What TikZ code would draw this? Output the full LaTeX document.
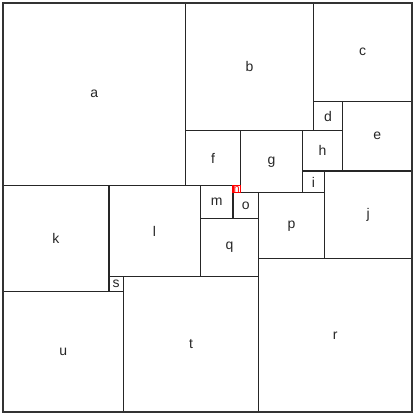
\documentclass[tikz,border=0pt]{standalone}
\usepackage{fontspec}
\setmainfont{Liberation Sans}
\usepackage{tikz}
\usetikzlibrary{positioning}

\def\squnit{3.6518pt}

\begin{document}
\begin{tikzpicture}[
    x=\squnit, y=-\squnit,
    sq/.style={draw=black!85, line width=1.2pt, inner sep=0pt, outer sep=0pt,
               minimum size=#1*\squnit, font=\fontsize{14}{14}\selectfont, text=black!85},
    frame/.style={draw=black!80, line width=2pt, inner sep=0pt, minimum size=112*\squnit}
]
    \useasboundingbox (-0.8215,-0.8215) rectangle (113.0953,112.8215);

    % top row
    \node[sq=50] (a) at (25,25) {a};
    \node[sq=35] (b) at (67.5,17.5) {b};
    \node[sq=27] (c) at (98.5,13.5) {c};
    \node[sq=8] (d) at (89,31) {d};
    \node[sq=19] (e) at (102.5,36.5) {e};

    % middle band
    \node[sq=15] (f) at (57.5,42.5) {f};
    \node[sq=17] (g) at (73.5,43.5) {g};
    \node[sq=11] (h) at (87.5,40.5) {h};
    \node[sq=6] (i) at (85,49) {i};
    \node[sq=24] (j) at (100,58) {j};
    \node[sq=29] (k) at (14.5,64.5) {k};
    \node[sq=25] (l) at (41.5,62.5) {l};
    \node[sq=9] (m) at (58.5,54.5) {m};
    \node[sq=7] (o) at (66.5,55.5) {o};
    \node[sq=18] (p) at (79,61) {p};
    \node[sq=16] (q) at (62,67) {q};

    % bottom row
    \node[sq=42] (r) at (91,91) {r};
    \node[sq=4] (s) at (31,77) {s};
    \node[sq=37] (t) at (51.5,93.5) {t};
    \node[sq=33] (u) at (16.5,95.5) {u};

    % the smallest one
    \node[sq=2, draw=red, text=red, font=\fontsize{11}{11}\selectfont] (n) at (64,51) {n};

    \node[frame] (board) at (56,56) {};
\end{tikzpicture}
\end{document}
